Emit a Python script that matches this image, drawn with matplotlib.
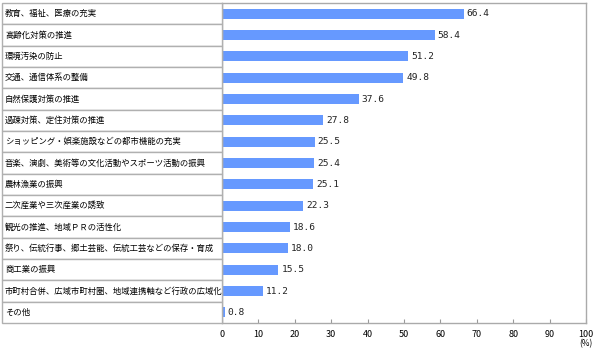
import matplotlib
matplotlib.use("Agg")
import matplotlib.pyplot as plt
from matplotlib.patches import Rectangle
from matplotlib.transforms import blended_transform_factory

plt.rcParams['font.family'] = ['Noto Sans CJK JP', 'DejaVu Sans']

# データ
categories = [
    "教育、福祉、医療の充実",
    "高齢化対策の推進",
    "環境汚染の防止",
    "交通、通信体系の整備",
    "自然保護対策の推進",
    "過疎対策、定住対策の推進",
    "ショッピング・娯楽施設などの都市機能の充実",
    "音楽、演劇、美術等の文化活動やスポーツ活動の振興",
    "農林漁業の振興",
    "二次産業や三次産業の誘致",
    "観光の推進、地域ＰＲの活性化",
    "祭り、伝統行事、郷土芸能、伝統工芸などの保存・育成",
    "商工業の振興",
    "市町村合併、広域市町村圏、地域連携軸など行政の広域化",
    "その他",
]
values = [66.4, 58.4, 51.2, 49.8, 37.6, 27.8, 25.5, 25.4, 25.1, 22.3, 18.6, 18.0, 15.5, 11.2, 0.8]
xticks = [0, 10, 20, 30, 40, 50, 60, 70, 80, 90, 100]

fig = plt.figure(figsize=(5.95, 3.5), dpi=100)
ax = fig.add_axes([222 / 595, 1 - 323 / 350, 364 / 595, 320 / 350])

ypos = list(range(len(categories)))
ax.barh(ypos, values, height=0.48, color="#6699ff", edgecolor="none")
for y, v in zip(ypos, values):
    ax.text(v + 0.8, y, f"{v:.1f}", va="center", ha="left", fontsize=6.8,
            family=["DejaVu Sans Mono"], color="#222222")

ax.set_xlim(0, 100)
ax.set_ylim(len(categories) - 0.5, -0.5)
ax.set_xticks(xticks)
ax.set_xticklabels([str(t) for t in xticks], fontsize=6.5)
ax.tick_params(axis="x", direction="in", length=3, color="#999999", pad=5)
ax.set_yticks([])
for side in ["top", "right", "bottom", "left"]:
    ax.spines[side].set_color("#aaaaaa")
    ax.spines[side].set_linewidth(1)

fig.text(586 / 595, 1 - 344 / 350, "(%)", ha="center", va="center", fontsize=6)

# ラベル欄（左側の表）
trans = blended_transform_factory(fig.transFigure, ax.transData)
x0 = 2 / 595
w = 220 / 595
for y, label in zip(ypos, categories):
    rect = Rectangle((x0, y - 0.5), w, 1.0, transform=trans, facecolor="white",
                     edgecolor="#b0b0b0", linewidth=1, clip_on=False)
    fig.add_artist(rect)
    fig.text(5 / 595, 0, label, transform=trans, fontsize=6.0, va="center", ha="left")
    fig.texts[-1].set_y(y)

fig.savefig("out.png", dpi=100)
